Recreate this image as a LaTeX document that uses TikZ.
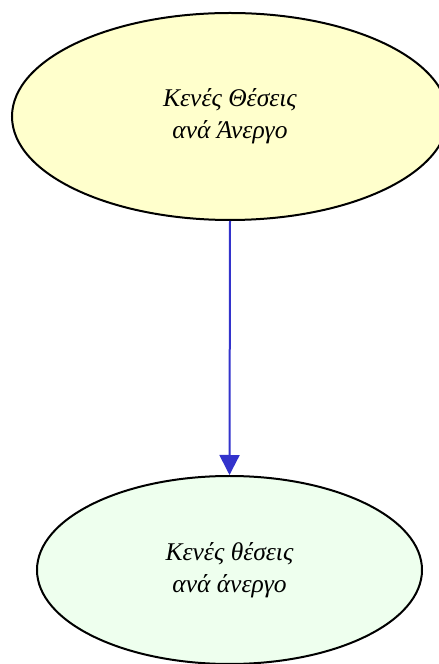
\documentclass[tikz,border=0pt]{standalone}
\usepackage{fontspec}
\setmainfont{Liberation Serif}
\usetikzlibrary{shapes.geometric,arrows.meta}
\definecolor{topfill}{HTML}{FFFFCC}
\definecolor{botfill}{HTML}{EEFFEE}
\definecolor{arrowblue}{HTML}{3333CC}
\begin{document}
\begin{tikzpicture}[x=1pt,y=1pt,
  ell/.style={ellipse, draw=black, line width=2pt, inner sep=0pt, align=center,
    font=\fontsize{25.5}{32}\selectfont\itshape},
  conn/.style={draw=arrowblue, line width=2pt, -{Triangle[width=20pt,length=20pt]}}]
\useasboundingbox (0,0) rectangle (439,664);
\clip (0,0) rectangle (439,664);
\node[ell, fill=topfill, minimum width=436pt, minimum height=207pt] (a) at (230,547.5) {Κενές Θέσεις\\ανά Άνεργο};
\node[ell, fill=botfill, minimum width=385pt, minimum height=188pt] (b) at (229.5,94) {Κενές θέσεις\\ανά άνεργο};
\draw[conn] (a.south) -- (b.north);
\end{tikzpicture}
\end{document}
